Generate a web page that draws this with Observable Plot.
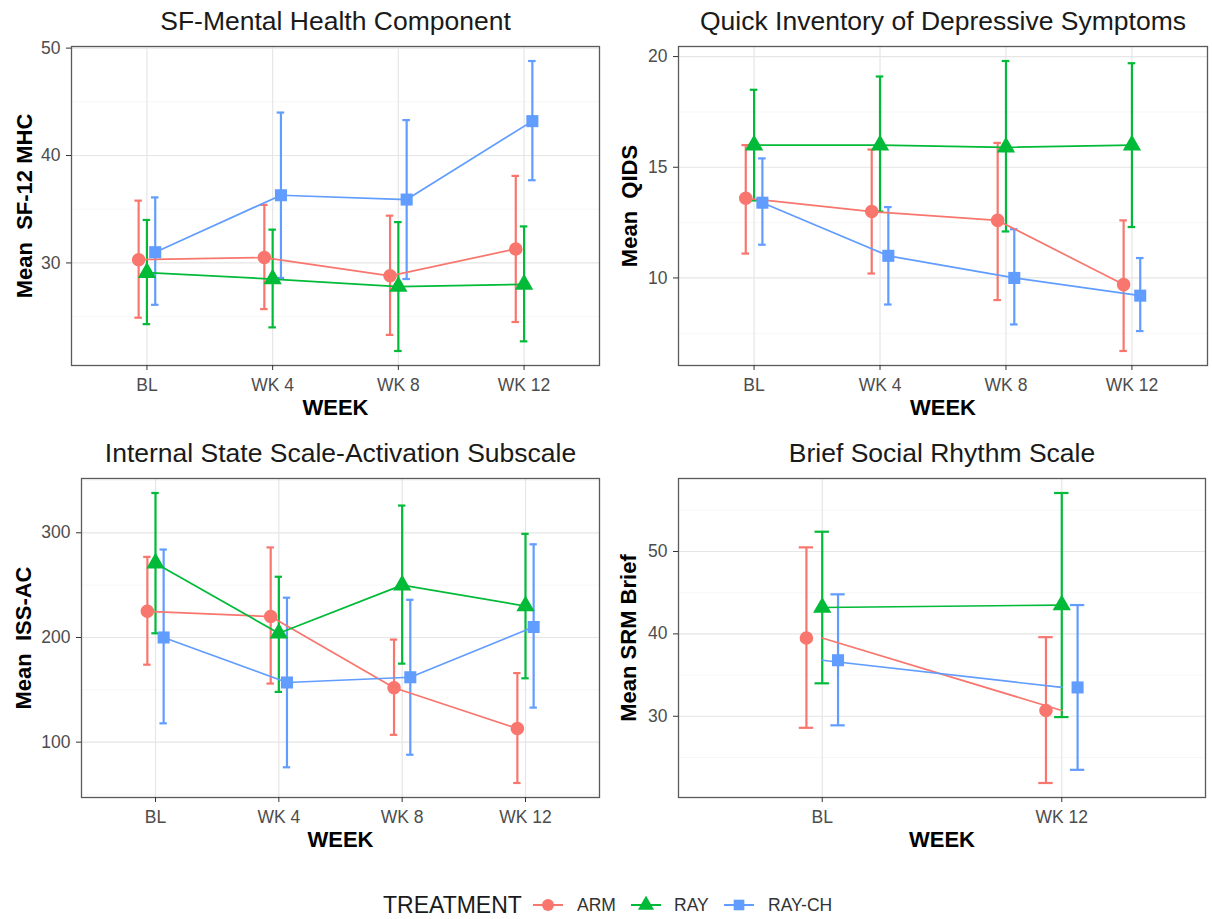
<!DOCTYPE html>
<html><head><meta charset="utf-8">
<script src="https://cdn.jsdelivr.net/npm/d3@7"></script>
<script src="https://cdn.jsdelivr.net/npm/@observablehq/plot@0.6"></script>
<style>
body{margin:0;background:#fff;font-family:"Liberation Sans",Arial,Helvetica,sans-serif;}
#wrap{position:relative;width:1212px;height:919px;overflow:hidden;background:#fff;}
.panel{position:absolute;}
.lg{position:absolute;line-height:26px;height:26px;white-space:nowrap;}
.lgkey{position:absolute;}
</style></head><body><div id="wrap"></div>
<script>
// ---------- data ----------
const TREATMENTS = ["ARM", "RAY", "RAY-CH"];
const COLORS = ["#F8766D", "#00BA38", "#619CFF"];
const SYMBOLS = ["circle", "triangle", "square"];
const WEEKS_4 = ["BL", "WK 4", "WK 8", "WK 12"];
const WEEKS_2 = ["BL", "WK 12"];

// SF-12 Mental Health Component (rows: ARM, RAY, RAY-CH)
const sfMean = [[30.3, 30.5, 28.8, 31.3], [29.1, 28.5, 27.8, 28.0], [31.0, 36.3, 35.9, 43.2]];
const sfLo   = [[24.9, 25.7, 23.3, 24.5], [24.3, 24.0, 21.8, 22.7], [26.1, 28.6, 28.5, 37.7]];
const sfHi   = [[35.8, 35.4, 34.4, 38.1], [34.0, 33.1, 33.8, 33.4], [36.1, 44.0, 43.3, 48.8]];
const sfTicks = [30, 40, 50];
const sfMinor = [25, 35, 45];

// QIDS
const qidsMean = [[13.6, 13.0, 12.6, 9.7], [16.0, 16.0, 15.9, 16.0], [13.4, 11.0, 10.0, 9.2]];
const qidsLo   = [[11.1, 10.2, 9.0, 6.7], [13.5, 13.0, 12.1, 12.3], [11.5, 8.8, 7.9, 7.6]];
const qidsHi   = [[16.0, 15.8, 16.1, 12.6], [18.5, 19.1, 19.8, 19.7], [15.4, 13.2, 12.2, 10.9]];
const qidsTicks = [10, 15, 20];
const qidsMinor = [7.5, 12.5, 17.5];

// ISS-AC
const issMean = [[225, 220, 152, 113], [271, 204, 250, 230], [200, 157, 162, 210]];
const issLo   = [[174, 156, 107, 61], [204, 148, 175, 161], [118, 76, 88, 133]];
const issHi   = [[277, 286, 198, 166], [338, 258, 326, 299], [284, 238, 236, 289]];
const issTicks = [100, 200, 300];
const issMinor = [50, 150, 250, 350];

// SRM Brief
const srmMean = [[39.5, 30.7], [43.2, 43.5], [36.8, 33.5]];
const srmLo   = [[28.6, 21.9], [34.0, 29.9], [28.9, 23.5]];
const srmHi   = [[50.5, 39.6], [52.4, 57.1], [44.8, 43.5]];
const srmTicks = [30, 40, 50];
const srmMinor = [25, 35, 45, 55];

// ---------- helpers ----------
const DODGE = 0.066, CAP = 0.03;
function buildRows(weeks, mean, lo, hi) {
  const out = [];
  TREATMENTS.forEach((t, k) => {
    weeks.forEach((w, i) => {
      out.push({trt: t, k, i, week: w, mean: mean[k][i], lo: lo[k][i], hi: hi[k][i]});
    });
  });
  return out;
}

function panel(cfg) {
  const data = buildRows(cfg.weeks, cfg.mean, cfg.lo, cfg.hi);
  const n = cfg.weeks.length;
  const all = data.flatMap(d => [d.lo, d.hi]);
  const [mn, mx] = d3.extent(all);
  const pad = (mx - mn) * 0.05;
  const xd = d => d.i + (d.k - 1) * DODGE;
  const xl = cfg.dodgeLines ? xd : (d => d.i);
  const W = 606, H = 430;
  const p = Plot.plot({
    width: W, height: H,
    marginLeft: cfg.mL, marginRight: W - cfg.right, marginTop: cfg.mT, marginBottom: H - cfg.bottom,
    style: {fontFamily: '"Liberation Sans", Arial, Helvetica, sans-serif', background: "#fff", overflow: "visible"},
    x: {type: "linear", domain: [-0.6, n - 1 + 0.6], axis: null},
    y: {domain: [mn - pad, mx + pad], axis: null},
    color: {domain: TREATMENTS, range: COLORS},
    symbol: {domain: TREATMENTS, range: SYMBOLS},
    marks: [
      Plot.ruleY(cfg.minor, {stroke: "#f3f3f3", strokeWidth: 0.7}),
      Plot.ruleY(cfg.ticks, {stroke: "#e6e6e6", strokeWidth: 1.2}),
      Plot.ruleX(d3.range(n), {stroke: "#e6e6e6", strokeWidth: 1.2}),
      Plot.ruleX(data, {x: xd, y1: "lo", y2: "hi", stroke: "trt", strokeWidth: 2.2}),
      Plot.ruleY(data, {y: "hi", x1: d => xd(d) - CAP, x2: d => xd(d) + CAP, stroke: "trt", strokeWidth: 2.2}),
      Plot.ruleY(data, {y: "lo", x1: d => xd(d) - CAP, x2: d => xd(d) + CAP, stroke: "trt", strokeWidth: 2.2}),
      Plot.line(data, {x: xl, y: "mean", z: "trt", stroke: "trt", strokeWidth: 1.7}),
      Plot.dot(data, {x: xd, y: "mean", fill: "trt", symbol: "trt", r: 6.8, stroke: "none"}),
      Plot.frame({stroke: "#5a5a5a", strokeWidth: 1.3}),
      Plot.axisY({ticks: cfg.ticks, tickSize: 5, tickPadding: 6, fontSize: 17.5, fill: "#4d4d4d", stroke: "#333", label: null}),
      Plot.axisX({ticks: d3.range(n), tickFormat: i => cfg.weeks[i], tickSize: 5, tickPadding: 8, fontSize: 17.5, fill: "#4d4d4d", stroke: "#333", label: null}),
      Plot.text([cfg.title], {text: d => d, frameAnchor: "top", dy: -25, lineAnchor: "middle", textAnchor: "middle", fontSize: 26.5, fill: "#1a1a1a"}),
      Plot.text([cfg.ylab], {text: d => d, frameAnchor: "left", rotate: -90, dx: -(cfg.mL - cfg.ylabX), lineAnchor: "middle", textAnchor: "middle", fontSize: 22, fontWeight: "bold", fill: "#000"}),
      Plot.text(["WEEK"], {text: d => d, frameAnchor: "bottom", dy: 42, lineAnchor: "middle", textAnchor: "middle", fontSize: 22, fontWeight: "bold", fill: "#000"})
    ]
  });
  p.classList.add("panel");
  p.style.left = cfg.left + "px";
  p.style.top = cfg.top + "px";
  return p;
}

const wrap = document.getElementById("wrap");
wrap.appendChild(panel({title: "SF-Mental Health Component", ylab: "Mean  SF-12 MHC", weeks: WEEKS_4,
  mean: sfMean, lo: sfLo, hi: sfHi, ticks: sfTicks, minor: sfMinor,
  left: 0, top: 0, mL: 71, right: 599, mT: 46, bottom: 365, ylabX: 24, dodgeLines: true}));
wrap.appendChild(panel({title: "Quick Inventory of Depressive Symptoms", ylab: "Mean  QIDS", weeks: WEEKS_4,
  mean: qidsMean, lo: qidsLo, hi: qidsHi, ticks: qidsTicks, minor: qidsMinor,
  left: 606, top: 0, mL: 72, right: 601, mT: 46, bottom: 365, ylabX: 23, dodgeLines: true}));
wrap.appendChild(panel({title: "Internal State Scale-Activation Subscale", ylab: "Mean  ISS-AC", weeks: WEEKS_4,
  mean: issMean, lo: issLo, hi: issHi, ticks: issTicks, minor: issMinor,
  left: 0, top: 430, mL: 81, right: 599, mT: 48, bottom: 367, ylabX: 23, dodgeLines: true}));
wrap.appendChild(panel({title: "Brief Social Rhythm Scale", ylab: "Mean SRM Brief", weeks: WEEKS_2,
  mean: srmMean, lo: srmLo, hi: srmHi, ticks: srmTicks, minor: srmMinor,
  left: 606, top: 430, mL: 72, right: 599, mT: 48, bottom: 367, ylabX: 22, dodgeLines: false}));

// ---------- legend ----------
const LY = 905;
function addText(txt, x, size, color) {
  const d = document.createElement("div");
  d.className = "lg";
  d.textContent = txt;
  d.style.left = x + "px";
  d.style.top = (LY - 13) + "px";
  d.style.fontSize = size + "px";
  d.style.color = color;
  wrap.appendChild(d);
}
function addKey(k, x) {
  const ns = "http://www.w3.org/2000/svg";
  const s = document.createElementNS(ns, "svg");
  s.setAttribute("width", 32); s.setAttribute("height", 18);
  s.setAttribute("class", "lgkey");
  s.style.left = x + "px"; s.style.top = (LY - 9) + "px";
  const ln = document.createElementNS(ns, "line");
  ln.setAttribute("x1", 1); ln.setAttribute("x2", 31); ln.setAttribute("y1", 9); ln.setAttribute("y2", 9);
  ln.setAttribute("stroke", COLORS[k]); ln.setAttribute("stroke-width", 2);
  s.appendChild(ln);
  const sym = document.createElementNS(ns, "path");
  const sy = [d3.symbolCircle, d3.symbolTriangle, d3.symbolSquare][k];
  sym.setAttribute("d", d3.symbol(sy, Math.PI * 6 * 6)());
  sym.setAttribute("transform", "translate(16,9)");
  sym.setAttribute("fill", COLORS[k]);
  s.appendChild(sym);
  wrap.appendChild(s);
}
addText("TREATMENT", 383, 23, "#1a1a1a");
addKey(0, 532); addText(TREATMENTS[0], 577, 17.5, "#333");
addKey(1, 630); addText(TREATMENTS[1], 674, 17.5, "#333");
addKey(2, 723); addText(TREATMENTS[2], 768, 17.5, "#333");
</script></body></html>
